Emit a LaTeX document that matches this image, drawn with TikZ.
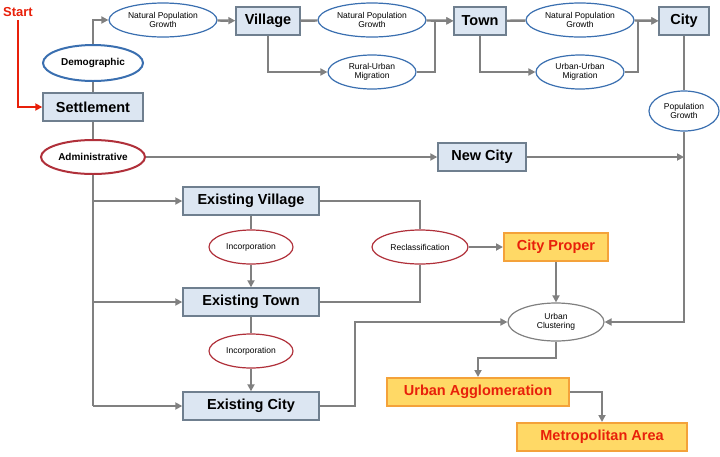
\documentclass[tikz,border=0pt]{standalone}
\usepackage{fontspec}
\setmainfont{Liberation Sans}
\usepackage{tikz}
\usetikzlibrary{arrows.meta,positioning,shapes.geometric}
\definecolor{boxfill}{HTML}{DCE6F2}
\definecolor{boxline}{HTML}{6F7F8F}
\definecolor{lnk}{HTML}{808080}
\definecolor{ored}{HTML}{E8200A}
\definecolor{ofill}{HTML}{FFD966}
\definecolor{oline}{HTML}{F4A23A}
\definecolor{eblue}{HTML}{3A6FB0}
\definecolor{ered}{HTML}{B0303A}
\tikzset{
    box/.style={rectangle, draw=boxline, fill=boxfill, line width=1.4pt,
        minimum height=28pt, inner sep=3pt, font=\bfseries\fontsize{14.5}{14.5}\selectfont},
    obox/.style={box, draw=oline, fill=ofill, text=ored, line width=2pt},
    oval/.style={ellipse, draw=eblue, fill=white, line width=1.2pt, inner sep=0pt,
        minimum height=34pt, align=center, font=\fontsize{8.5}{9.5}\selectfont},
    roval/.style={oval, draw=ered},
    arrow/.style={-{Triangle[length=7pt,width=7pt]}, draw=lnk, line width=2.4pt},
    link/.style={draw=lnk, line width=2.4pt}
}
\begin{document}
\begin{tikzpicture}[x=1pt,y=-1pt]
    \useasboundingbox (0,0) rectangle (720,456);
    % demographic branch
    \node[box, minimum width=100pt] (sett) at (93,107) {Settlement};
    \node[oval, line width=2pt, minimum width=100pt, minimum height=36pt,
        font=\bfseries\fontsize{10}{10}\selectfont] (demo) at (93,63) {Demographic};
    \node[oval, minimum width=108pt] (npg1) at (163,20) {Natural Population\\Growth};
    \node[box, minimum width=64pt] (vil) at (268,21) {Village};
    \node[oval, minimum width=108pt] (npg2) at (372,20) {Natural Population\\Growth};
    \node[oval, minimum width=88pt] (rum) at (372,72) {Rural-Urban\\Migration};
    \node[box, minimum width=52pt] (town) at (480,21) {Town};
    \node[oval, minimum width=108pt] (npg3) at (580,20) {Natural Population\\Growth};
    \node[oval, minimum width=88pt] (uum) at (580,72) {Urban-Urban\\Migration};
    \node[box, minimum width=50pt] (city) at (684,21) {City};
    \node[oval, minimum width=70pt, minimum height=40pt] (pg) at (684,111) {Population\\Growth};
    % administrative branch
    \node[roval, line width=2pt, minimum width=104pt,
        font=\bfseries\fontsize{10}{10}\selectfont] (admin) at (93,157) {Administrative};
    \node[box, minimum width=88pt] (new) at (482,157) {New City};
    \node[box, minimum width=136pt] (ev) at (251,201) {Existing Village};
    \node[roval, minimum width=84pt] (inc1) at (251,247) {Incorporation};
    \node[box, minimum width=136pt] (et) at (251,302) {Existing Town};
    \node[roval, minimum width=84pt] (inc2) at (251,351) {Incorporation};
    \node[box, minimum width=136pt] (ec) at (251,406) {Existing City};
    \node[roval, minimum width=96pt] (recl) at (420,247) {Reclassification};
    \node[obox, minimum width=104pt] (prop) at (556,247) {City Proper};
    \node[oval, draw=gray, minimum width=96pt, minimum height=38pt] (clus) at (556,322) {Urban\\Clustering};
    \node[obox, minimum width=182pt] (aggl) at (478,392) {Urban Agglomeration};
    \node[obox, minimum width=170pt] (metro) at (602,437) {Metropolitan Area};
    \node[text=ored, font=\bfseries\fontsize{13}{13}\selectfont] (start) at (18,12) {Start};
    \coordinate (pgin) at (684,157);
    % connectors
    \draw[-{Triangle[length=7pt,width=7pt]}, draw=ored, line width=2pt]
        (start.south) |- (sett.west);
    \draw[link] (sett) -- (demo);
    \draw[link] (sett) -- (admin);
    \draw[arrow] (demo.north) |- (npg1.west);
    \draw[arrow] (npg1) -- (vil);
    \draw[link] (vil) -- (npg2);
    \draw[arrow] (vil.south) |- (rum.west);
    \draw[arrow] (npg2) -- (town);
    \draw[arrow] (rum.east) -| (435,21) -- (town.west);
    \draw[link] (town) -- (npg3);
    \draw[arrow] (town.south) |- (uum.west);
    \draw[arrow] (npg3) -- (city);
    \draw[arrow] (uum.east) -| (638,21) -- (city.west);
    \draw[link] (city) -- (pg);
    \draw[arrow] (pg.south) |- (clus.east);
    \draw[arrow] (admin) -- (new);
    \draw[arrow] (new) -- (pgin);
    \draw[link] (admin.south) -- (93,406);
    \draw[arrow] (93,201) -- (ev.west);
    \draw[arrow] (93,302) -- (et.west);
    \draw[arrow] (93,406) -- (ec.west);
    \draw[link] (ev) -- (inc1);
    \draw[arrow] (inc1) -- (et);
    \draw[link] (et) -- (inc2);
    \draw[arrow] (inc2) -- (ec);
    \draw[link] (ev.east) -| (recl.north);
    \draw[link] (et.east) -| (recl.south);
    \draw[arrow] (recl) -- (prop);
    \draw[arrow] (prop) -- (clus);
    \draw[arrow] (ec.east) -| (355,322) -- (clus.west);
    \draw[arrow] (clus.south) |- (478,358) -- (aggl.north);
    \draw[arrow] (aggl.east) -| (metro.north);
\end{tikzpicture}
\end{document}
